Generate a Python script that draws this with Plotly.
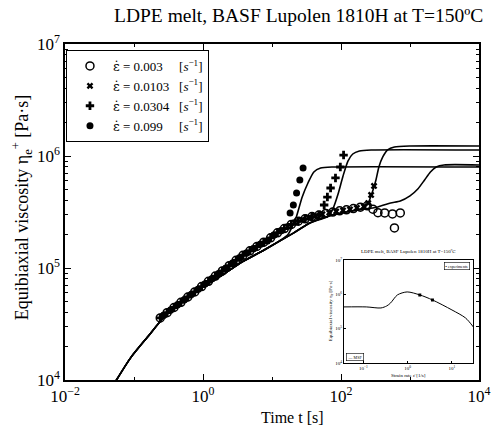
import plotly.graph_objects as go

# ---------------- data ----------------
rate_labels = ["0.003", "0.0103", "0.0304", "0.099"]

# experimental points: time t [s], viscosity [Pa s]
t_003 = [0.240, 0.302, 0.380, 0.479, 0.603, 0.759, 0.955, 1.20, 1.51, 1.91, 2.40, 3.02,
         3.80, 4.79, 6.03, 7.59, 9.55, 12.0, 15.1, 19.1, 24.0, 30.2, 38.0, 47.9, 60.3,
         75.9, 95.5, 120, 151, 191, 240, 290, 343, 430, 557, 595, 723]
eta_003 = [35800, 39900, 44400, 49400, 55100, 61200, 68200, 76000, 84700, 94200, 105000,
           117000, 130000, 142300, 155600, 170000, 186000, 206000, 225000, 245000, 262000,
           275000, 288000, 297000, 307000, 316000, 324000, 331000, 339000, 349000, 359000,
           335000, 312000, 310000, 304000, 228000, 310000]

t_0103 = [0.269, 0.339, 0.427, 0.537, 0.676, 0.851, 1.07, 1.35, 1.70, 2.14, 2.69, 3.39,
          4.27, 5.37, 6.76, 8.51, 10.7, 13.5, 17.0, 21.4, 26.9, 33.9, 42.7, 53.7, 67.6,
          85.1, 107, 135, 170, 214, 248, 273, 301]
eta_0103 = [37800, 42100, 46900, 52100, 58100, 64700, 72100, 80200, 89300, 99500, 110700,
            123300, 136000, 148700, 162600, 174000, 197000, 215000, 235000, 255000, 269000,
            282000, 292000, 302000, 312000, 320000, 327000, 334000, 344000, 354000, 380000,
            449000, 540000]

t_0304 = [0.240, 0.302, 0.380, 0.479, 0.603, 0.759, 0.955, 1.20, 1.51, 1.91, 2.40, 3.02,
          3.80, 4.79, 6.03, 7.59, 9.55, 12.0, 15.1, 19.1, 24.0, 30.2, 38.0, 47.9, 57.0,
          63.5, 70.6, 83.2, 97.8, 109]
eta_0304 = [35800, 39900, 44400, 49400, 55100, 61200, 68200, 76000, 84700, 94200, 105000,
            117000, 130000, 142300, 155600, 170000, 186000, 206000, 225000, 245000, 262000,
            275000, 288000, 297000, 365000, 430000, 518000, 637000, 798000, 1020000]

t_099 = [0.269, 0.339, 0.427, 0.537, 0.676, 0.851, 1.07, 1.35, 1.70, 2.14, 2.69, 3.39,
         4.27, 5.37, 6.76, 8.51, 10.7, 13.5, 18.3, 20.4, 22.7, 25.3, 28.2]
eta_099 = [37800, 42100, 46900, 52100, 58100, 64700, 72100, 80200, 89300, 99500, 110700,
           123300, 136000, 148700, 162600, 174000, 197000, 215000, 310000, 365000, 468000,
           611000, 781000]

# model: linear viscoelastic start-up envelope and the four branches
env_t = [0.04, 0.0557, 0.0908, 0.157, 0.273, 0.523, 1.0, 1.91, 3.66, 7.71, 20.4, 35.4, 74.7, 143]
env_eta = [7100, 10000, 16000, 24200, 36500, 51800, 67700, 86600, 113000, 145000, 205000,
           252000, 297000, 323000]
br_t_003 = [343, 523, 723, 1000, 1297, 1626, 1976, 2400, 3112, 10000]
br_eta_003 = [351000, 380000, 396000, 440000, 507000, 611000, 720000, 798000, 832000, 832000]
br_t_0103 = [211, 248, 282, 321, 354, 403, 474, 595, 1000, 10000]
br_eta_0103 = [343000, 380000, 468000, 611000, 798000, 980000, 1133000, 1203000, 1227000, 1227000]
br_t_0304 = [65.6, 77.1, 90.7, 107, 126, 148, 185, 273, 10000]
br_eta_0304 = [291000, 343000, 458000, 663000, 901000, 1042000, 1109000, 1133000, 1133000]
br_t_099 = [16.8, 19.8, 22.5, 27.4, 33.2, 40.4, 50.6, 74.7, 10000]
br_eta_099 = [197000, 237000, 285000, 430000, 574000, 720000, 781000, 798000, 798000]

# inset: steady equibiaxial viscosity vs strain rate
inset_rate = [0.0363, 0.116, 0.249, 0.337, 0.412, 0.588, 0.975, 1.88, 3.63, 10.0, 20.3, 30.5]
inset_eta = [430000, 430000, 401000, 459000, 561000, 962000, 1175000, 962000, 687000,
             351000, 205000, 112000]
inset_pt_rate = [1.88, 3.63]
inset_pt_eta = [962000, 687000]

x_tickvals = [1e-2, 1e0, 1e2, 1e4]
x_ticktext = ["10<sup>−2</sup>", "10<sup>0</sup>", "10<sup>2</sup>", "10<sup>4</sup>"]
y_tickvals = [1e4, 1e5, 1e6, 1e7]
y_ticktext = ["10<sup>4</sup>", "10<sup>5</sup>", "10<sup>6</sup>", "10<sup>7</sup>"]
inset_x_tickvals = [1e-1, 1e0, 1e1]
inset_x_ticktext = ["10<sup>−1</sup>", "10<sup>0</sup>", "10<sup>1</sup>"]
inset_y_tickvals = [1e4, 1e5, 1e6, 1e7]
inset_y_ticktext = ["10<sup>4</sup>", "10<sup>5</sup>", "10<sup>6</sup>", "10<sup>7</sup>"]

# ---------------- figure ----------------
SERIF = "Liberation Serif"
EPS = '<span style="font-family:DejaVu Serif">ε̇</span>'
fig = go.Figure()


def curve(bt, be):
    xs = [t for t in env_t if t < bt[0]] + bt
    ys = [e for t, e in zip(env_t, env_eta) if t < bt[0]] + be
    return xs, ys


for bt, be in [(br_t_003, br_eta_003), (br_t_0103, br_eta_0103),
               (br_t_0304, br_eta_0304), (br_t_099, br_eta_099)]:
    xs, ys = curve(bt, be)
    fig.add_trace(go.Scatter(x=xs, y=ys, mode="lines", showlegend=False,
                             line=dict(color="black", width=1.6, shape="spline", smoothing=0.6),
                             hoverinfo="skip"))

sym = [("circle-open", 8, t_003, eta_003),
       ("x", 6, t_0103, eta_0103),
       ("cross", 7, t_0304, eta_0304),
       ("circle", 7, t_099, eta_099)]
pads = ["\u00a0\u00a0\u00a0\u00a0\u00a0", "\u00a0\u00a0\u00a0", "\u00a0\u00a0\u00a0",
        "\u00a0\u00a0\u00a0\u00a0\u00a0"]
for (s, sz, tx, ey), lab, pd in zip(sym, rate_labels, pads):
    fig.add_trace(go.Scatter(
        x=tx, y=ey, mode="markers",
        name=EPS + " = " + lab + pd + "[<i>s</i><sup>−1</sup>]",
        marker=dict(symbol=s, size=sz, color="black",
                    line=dict(color="black", width=1.5 if s == "circle-open" else 0))))

# inset traces
fig.add_trace(go.Scatter(x=inset_rate, y=inset_eta, mode="lines", xaxis="x2", yaxis="y2",
                         showlegend=False, line=dict(color="black", width=1, shape="spline",
                                                     smoothing=0.8)))
fig.add_trace(go.Scatter(x=inset_pt_rate, y=inset_pt_eta, mode="markers", xaxis="x2", yaxis="y2",
                         showlegend=False, marker=dict(symbol="square", size=3, color="black")))

W, H = 503, 431
L, R, T, B = 65, 12, 44, 51
pw, ph = W - L - R, H - T - B


def px(x):
    return (x - L) / pw


def py(y):
    return (H - B - y) / ph


axis_common = dict(type="log", showline=True, linecolor="black", linewidth=1.5, mirror="ticks",
                   ticks="inside", ticklen=6, tickcolor="black", tickwidth=1, showgrid=False,
                   zeroline=False, tickmode="array",
                   tickfont=dict(family=SERIF, size=17, color="black"))
inset_common = dict(type="log", showline=True, linecolor="black", linewidth=1, mirror=True,
                    ticks="inside", ticklen=2, tickcolor="black", showgrid=False,
                    zeroline=False, tickmode="array",
                    tickfont=dict(family=SERIF, size=5, color="black"))

fig.update_layout(
    width=W, height=H,
    margin=dict(l=L, r=R, t=T, b=B, pad=0),
    paper_bgcolor="white", plot_bgcolor="white",
    font=dict(family=SERIF, color="black"),
    xaxis=dict(range=[-2, 4], tickvals=x_tickvals, ticktext=x_ticktext,
               minor=dict(ticks="inside", ticklen=3, tickcolor="black", showgrid=False,
                          tickvals=[1e-1, 1e1, 1e3]),
               **axis_common),
    yaxis=dict(range=[4, 7], tickvals=y_tickvals, ticktext=y_ticktext,
               minor=dict(ticks="inside", ticklen=3, tickcolor="black", showgrid=False,
                          tickvals=[2e4, 3e4, 4e4, 5e4, 6e4, 7e4, 8e4, 9e4,
                                    2e5, 3e5, 4e5, 5e5, 6e5, 7e5, 8e5, 9e5,
                                    2e6, 3e6, 4e6, 5e6, 6e6, 7e6, 8e6, 9e6]),
               **axis_common),
    xaxis2=dict(range=[-1.44, 1.48], domain=[px(352), px(485)], anchor="y2",
                tickvals=inset_x_tickvals, ticktext=inset_x_ticktext, **inset_common),
    yaxis2=dict(range=[4, 7], domain=[py(363), py(260)], anchor="x2",
                tickvals=inset_y_tickvals, ticktext=inset_y_ticktext, **inset_common),
    legend=dict(x=px(66), y=py(50), xanchor="left", yanchor="top",
                bordercolor="black", borderwidth=1, bgcolor="white",
                font=dict(family=SERIF, size=13, color="black"),
                itemwidth=36, tracegroupgap=0),
    annotations=[
        dict(text="LDPE melt, BASF Lupolen 1810H at T=150ºC", x=px(305), y=py(15),
             xref="paper", yref="paper", showarrow=False, xanchor="center", yanchor="middle",
             font=dict(family=SERIF, size=19.5, color="black")),
        dict(text="Time t [s]", x=px(299), y=py(417), xref="paper", yref="paper",
             showarrow=False, xanchor="center", yanchor="middle",
             font=dict(family=SERIF, size=16, color="black")),
        dict(text="Equibiaxial viscosity η<sub>e</sub><sup>+</sup> [Pa·s]", x=px(20), y=py(207),
             xref="paper", yref="paper", showarrow=False, textangle=-90,
             xanchor="center", yanchor="middle",
             font=dict(family=SERIF, size=18, color="black")),
        # inset texts
        dict(text="LDPE melt, BASF Lupolen 1810H at T=150ºC", x=px(418), y=py(252),
             xref="paper", yref="paper", showarrow=False, xanchor="center", yanchor="middle",
             font=dict(family=SERIF, size=5, color="black")),
        dict(text="Strain rate ε̇ [1/s]", x=px(418), y=py(375),
             xref="paper", yref="paper", showarrow=False, xanchor="center", yanchor="middle",
             font=dict(family=SERIF, size=5, color="black")),
        dict(text="Equibiaxial viscosity η<sub>e</sub> [Pa·s]", x=px(339), y=py(311),
             xref="paper", yref="paper", showarrow=False, textangle=-90,
             xanchor="center", yanchor="middle",
             font=dict(family=SERIF, size=5, color="black")),
        dict(text="▪ experiments", x=px(482), y=py(266), xref="paper", yref="paper",
             showarrow=False, xanchor="right", yanchor="middle", bordercolor="black",
             borderwidth=0.6, borderpad=1, bgcolor="white",
             font=dict(family=SERIF, size=4, color="black")),
        dict(text="— MSF", x=px(354), y=py(357), xref="paper", yref="paper",
             showarrow=False, xanchor="left", yanchor="middle", bordercolor="black",
             borderwidth=0.6, borderpad=1, bgcolor="white",
             font=dict(family=SERIF, size=4, color="black")),
    ],
)

fig.write_html("out.html", config={"displayModeBar": False},
               post_script="document.body.style.margin='0px';")
